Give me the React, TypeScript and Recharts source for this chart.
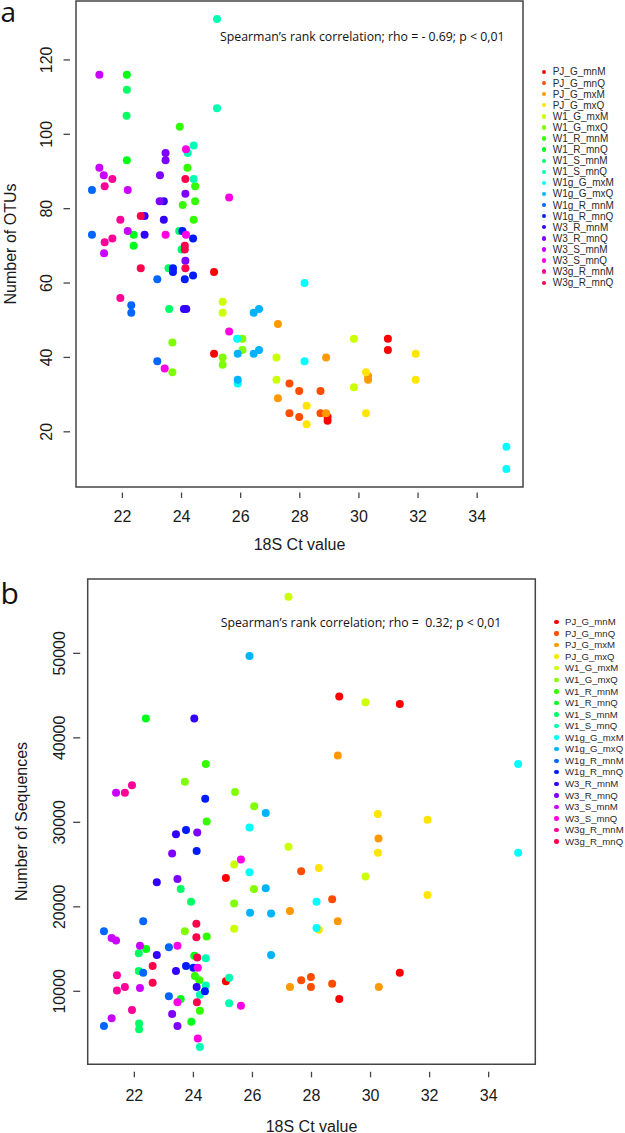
import React from 'react';
import { ScatterChart, Scatter, XAxis, YAxis, ReferenceArea, Legend } from 'recharts';

const SERIES_NAMES = [
  'PJ_G_mnM', 'PJ_G_mnQ', 'PJ_G_mxM', 'PJ_G_mxQ', 'W1_G_mxM', 'W1_G_mxQ', 'W1_R_mnM', 'W1_R_mnQ',
  'W1_S_mnM', 'W1_S_mnQ', 'W1g_G_mxM', 'W1g_G_mxQ', 'W1g_R_mnM', 'W1g_R_mnQ', 'W3_R_mnM', 'W3_R_mnQ',
  'W3_S_mnM', 'W3_S_mnQ', 'W3g_R_mnM', 'W3g_R_mnQ',
];
const SERIES_COLORS = [
  '#FF0000', '#FF4D00', '#FF9900', '#FFE500', '#CCFF00', '#80FF00', '#33FF00', '#00FF19',
  '#00FF66', '#00FFB2', '#00FFFF', '#00B3FF', '#0066FF', '#001AFF', '#3300FF', '#7F00FF',
  '#CC00FF', '#FF00E6', '#FF0099', '#FF004D',
];

const X_TICKS = [22, 24, 26, 28, 30, 32, 34];
const OTU_TICKS = [20, 40, 60, 80, 100, 120];
const SEQ_TICKS = [10000, 20000, 30000, 40000, 50000];
const X_DOMAIN_A = [20.43, 35.55];
const OTU_DOMAIN = [5.16, 135.84];
const X_DOMAIN_B = [20.42, 35.58];
const SEQ_DOMAIN = [1360, 58800];

// Panel a: [18S Ct value, number of OTUs]
const OTU_PJ_G_mnM = [[25.1, 63], [25.1, 41], [30.98, 45], [30.98, 42], [28.94, 24], [28.94, 23]];
const OTU_PJ_G_mnQ = [[27.65, 33], [27.65, 25], [27.98, 31], [27.98, 24], [28.7, 31], [28.7, 25]];
const OTU_PJ_G_mxM = [[27.26, 49], [27.26, 29], [28.89, 40], [28.89, 25], [30.31, 35], [30.31, 34]];
const OTU_PJ_G_mxQ = [[28.23, 27], [28.23, 22], [31.92, 41], [31.92, 34], [30.24, 36], [30.24, 25]];
const OTU_W1_G_mxM = [[25.39, 55], [25.39, 52], [27.21, 40], [27.21, 34], [29.83, 45], [29.83, 32]];
const OTU_W1_G_mxQ = [[26.06, 45], [26.06, 42], [25.39, 40], [25.39, 38], [23.69, 44], [23.69, 36]];
const OTU_W1_R_mnM = [[24.46, 86], [24.46, 82], [24.41, 77], [24.2, 91], [24.04, 81], [23.94, 102]];
const OTU_W1_R_mnQ = [[22.15, 116], [22.15, 93], [22.38, 73], [22.38, 70]];
const OTU_W1_S_mnM = [[22.14, 105], [22.15, 112], [23.56, 64], [23.58, 53], [23.92, 74], [24.0, 69]];
const OTU_W1_S_mnQ = [[25.2, 131], [25.2, 107], [24.41, 97], [24.21, 95], [24.41, 88]];
const OTU_W1g_G_mxM = [[25.88, 45], [25.9, 33], [28.16, 60], [28.16, 39], [34.99, 16], [34.99, 10]];
const OTU_W1g_G_mxQ = [[26.44, 52], [26.62, 53], [26.44, 41], [26.62, 42], [25.9, 41], [25.9, 34]];
const OTU_W1g_R_mnM = [[20.97, 85], [20.97, 73], [22.3, 54], [22.3, 52], [23.18, 61], [23.18, 39]];
const OTU_W1g_R_mnQ = [[24.39, 72], [24.39, 62], [23.71, 64], [23.71, 63], [24.03, 74], [24.11, 61]];
const OTU_W3_R_mnM = [[22.75, 78], [22.75, 73], [23.4, 82], [23.4, 77], [24.08, 53], [24.16, 53]];
const OTU_W3_R_mnQ = [[23.46, 95], [23.46, 93], [23.27, 89], [23.26, 82], [24.13, 84], [24.13, 66]];
const OTU_W3_S_mnM = [[21.22, 116], [21.22, 91], [21.37, 89], [21.38, 68], [22.18, 85], [22.18, 74]];
const OTU_W3_S_mnQ = [[24.15, 96], [23.46, 73], [24.15, 73], [25.61, 83], [25.61, 47], [23.43, 37]];
const OTU_W3g_R_mnM = [[21.4, 86], [21.4, 71], [21.66, 88], [21.66, 72], [21.93, 77], [21.93, 56]];
const OTU_W3g_R_mnQ = [[22.62, 78], [22.62, 64], [24.13, 88], [24.11, 70], [24.11, 69], [24.13, 64]];

// Panel b: [18S Ct value, number of sequences]
const SEQ_PJ_G_mnM = [[25.1, 23400], [25.1, 11200], [30.99, 44000], [30.99, 12200], [28.94, 44900], [28.94, 9100]];
const SEQ_PJ_G_mnQ = [[27.65, 24200], [27.65, 11300], [27.98, 11700], [27.98, 10500], [28.7, 20900], [28.7, 10900]];
const SEQ_PJ_G_mxM = [[27.27, 19500], [27.27, 10500], [28.89, 37900], [28.89, 18300], [30.27, 28100], [30.28, 10500]];
const SEQ_PJ_G_mxQ = [[28.25, 24600], [28.25, 17300], [31.93, 30300], [31.93, 21400], [30.25, 31000], [30.25, 26400]];
const SEQ_W1_G_mxM = [[25.38, 25000], [25.38, 17400], [27.22, 56700], [27.22, 27100], [29.83, 44200], [29.83, 23600]];
const SEQ_W1_G_mxQ = [[26.06, 31900], [26.05, 22100], [25.41, 33600], [25.38, 20400], [23.71, 34800], [23.71, 17100]];
const SEQ_W1_R_mnM = [[24.45, 30100], [24.45, 16500], [24.42, 36900], [24.2, 11300], [24.22, 7700], [24.05, 11800]];
const SEQ_W1_R_mnQ = [[22.39, 42300], [22.4, 15000], [24.03, 14200], [23.93, 6400], [23.57, 9100]];
const SEQ_W1_S_mnM = [[22.15, 14500], [22.15, 12400], [22.16, 6200], [22.16, 5500], [23.57, 22100], [23.92, 20600]];
const SEQ_W1_S_mnQ = [[25.21, 11600], [25.21, 8600], [24.42, 13900], [24.42, 10700], [24.22, 9600], [24.22, 3400]];
const SEQ_W1g_G_mxM = [[25.9, 29400], [25.9, 24100], [28.17, 20600], [28.17, 17500], [35.0, 36900], [35.0, 26400]];
const SEQ_W1g_G_mxQ = [[25.9, 49700], [25.92, 19300], [26.45, 31100], [26.45, 22200], [26.63, 19200], [26.63, 14300]];
const SEQ_W1g_R_mnM = [[20.97, 17100], [20.97, 5900], [22.3, 18300], [22.3, 12200], [23.17, 15200], [23.17, 9400]];
const SEQ_W1g_R_mnQ = [[24.4, 32800], [24.39, 10000], [23.75, 29100], [23.75, 13000], [24.11, 26600], [24.0, 12800]];
const SEQ_W3_R_mnM = [[22.76, 22900], [22.76, 14300], [23.41, 28600], [23.41, 12400], [24.03, 42300], [24.11, 10500]];
const SEQ_W3_R_mnQ = [[23.46, 23300], [23.46, 5900], [23.28, 26300], [23.28, 7300], [24.13, 28800]];
const SEQ_W3_S_mnM = [[21.23, 16300], [21.38, 16000], [21.23, 6800], [21.38, 33500], [22.19, 15400], [22.19, 10400]];
const SEQ_W3_S_mnQ = [[24.15, 12800], [24.15, 4400], [23.46, 15400], [23.46, 8700], [25.61, 25600], [25.61, 8300]];
const SEQ_W3g_R_mnM = [[21.41, 11900], [21.41, 10100], [21.68, 33500], [21.68, 10500], [21.92, 34400], [21.92, 7800]];
const SEQ_W3g_R_mnQ = [[22.62, 13000], [22.62, 11000], [24.1, 18000], [24.1, 16400], [24.13, 14000], [24.12, 8700]];

const OTU_SETS = [
  OTU_PJ_G_mnM, OTU_PJ_G_mnQ, OTU_PJ_G_mxM, OTU_PJ_G_mxQ, OTU_W1_G_mxM, OTU_W1_G_mxQ, OTU_W1_R_mnM,
  OTU_W1_R_mnQ, OTU_W1_S_mnM, OTU_W1_S_mnQ, OTU_W1g_G_mxM, OTU_W1g_G_mxQ, OTU_W1g_R_mnM, OTU_W1g_R_mnQ,
  OTU_W3_R_mnM, OTU_W3_R_mnQ, OTU_W3_S_mnM, OTU_W3_S_mnQ, OTU_W3g_R_mnM, OTU_W3g_R_mnQ,
];
const SEQ_SETS = [
  SEQ_PJ_G_mnM, SEQ_PJ_G_mnQ, SEQ_PJ_G_mxM, SEQ_PJ_G_mxQ, SEQ_W1_G_mxM, SEQ_W1_G_mxQ, SEQ_W1_R_mnM,
  SEQ_W1_R_mnQ, SEQ_W1_S_mnM, SEQ_W1_S_mnQ, SEQ_W1g_G_mxM, SEQ_W1g_G_mxQ, SEQ_W1g_R_mnM, SEQ_W1g_R_mnQ,
  SEQ_W3_R_mnM, SEQ_W3_R_mnQ, SEQ_W3_S_mnM, SEQ_W3_S_mnQ, SEQ_W3g_R_mnM, SEQ_W3g_R_mnQ,
];

const AXIS_COLOR = '#454545';
const TEXT_COLOR = '#1a1a1a';
const R_FONT = "'Liberation Sans', Arial, Helvetica, sans-serif";
const NOTE_FONT = "'Open Sans', 'Noto Sans', sans-serif";

const toRows = (pts: number[][]) => pts.map(([ct, v]) => ({ ct, v }));

const makeXTick = (gap: number, len: number, labelOff: number) => (props: any) => {
  const { x, y, payload } = props;
  return (
    <g>
      <line x1={x} x2={x} y1={y + gap} y2={y + gap + len} stroke={AXIS_COLOR} strokeWidth={1.3} />
      <text x={x} y={y + labelOff} textAnchor="middle" dominantBaseline="central" fontSize={16}
        fontFamily={R_FONT} fill={TEXT_COLOR}>{payload.value}</text>
    </g>
  );
};

const makeYTick = (gap: number, len: number, labelOff: number) => (props: any) => {
  const { x, y, payload } = props;
  const tx = x - labelOff;
  return (
    <g>
      <line x1={x - gap} x2={x - gap - len} y1={y} y2={y} stroke={AXIS_COLOR} strokeWidth={1.3} />
      <text x={tx} y={y} textAnchor="middle" dominantBaseline="central" fontSize={16}
        fontFamily={R_FONT} fill={TEXT_COLOR} transform={`rotate(-90 ${tx} ${y})`}>{payload.value}</text>
    </g>
  );
};

const makeLegend = (dotX: number, textX: number, step: number, fontSize: number) => () => (
  <div style={{ position: 'relative', width: 80, height: step * SERIES_NAMES.length }}>
    {SERIES_NAMES.map((name, i) => (
      <div key={name} style={{ position: 'absolute', left: 0, top: i * step, height: step, width: 80 }}>
        <span style={{
          position: 'absolute', left: dotX - 2.2, top: step / 2 - 2.2, width: 4.4, height: 4.4,
          borderRadius: '50%', background: SERIES_COLORS[i],
        }} />
        <span style={{
          position: 'absolute', left: textX, top: 0, lineHeight: `${step}px`, fontSize,
          fontFamily: R_FONT, color: '#2a2a2a', whiteSpace: 'nowrap',
        }}>{name}</span>
      </div>
    ))}
  </div>
);

const renderSeries = (sets: number[][][]) =>
  sets.map((pts, i) => (
    <Scatter
      key={SERIES_NAMES[i]}
      name={SERIES_NAMES[i]}
      data={toRows(pts)}
      dataKey="v"
      fill={SERIES_COLORS[i]}
      legendType="circle"
      isAnimationActive={false}
      shape={(p: any) => <circle cx={p.cx} cy={p.cy} r={4} fill={SERIES_COLORS[i]} />}
    />
  ));

const PanelA = () => (
  <ScatterChart width={625} height={560} margin={{ top: 1, right: 102, bottom: 0, left: 0 }}>
    <XAxis type="number" dataKey="ct" domain={X_DOMAIN_A} ticks={X_TICKS} allowDataOverflow interval={0}
      axisLine={false} tickLine={false} tickSize={0} tickMargin={0} height={73} tick={makeXTick(5.5, 5.5, 29.5)} />
    <YAxis type="number" dataKey="v" domain={OTU_DOMAIN} ticks={OTU_TICKS} allowDataOverflow interval={0}
      axisLine={false} tickLine={false} tickSize={0} tickMargin={0} width={76} tick={makeYTick(6, 6.5, 29.7)} />
    <ReferenceArea x1={X_DOMAIN_A[0]} x2={X_DOMAIN_A[1]} y1={OTU_DOMAIN[0]} y2={OTU_DOMAIN[1]}
      fill="none" stroke={AXIS_COLOR} strokeWidth={1.5} ifOverflow="visible" />
    {renderSeries(OTU_SETS)}
    <Legend layout="vertical" align="center" verticalAlign="middle"
      wrapperStyle={{ left: 540, top: 72 - 11.09 / 2, width: 80 }}
      content={makeLegend(4.3, 12.7, 11.09, 10)} />
    <text x={0.5} y={22} fontSize={28} fontFamily={NOTE_FONT} fill="#111">a</text>
    <text x={220} y={41} fontSize={12.3} fontFamily={NOTE_FONT} fill="#111" style={{ whiteSpace: 'pre' }}>
      Spearman’s rank correlation; rho = - 0.69; p &lt; 0,01
    </text>
    <text x={299.5} y={544} textAnchor="middle" dominantBaseline="central" fontSize={16}
      fontFamily={R_FONT} fill={TEXT_COLOR}>18S Ct value</text>
    <text x={10} y={244} textAnchor="middle" dominantBaseline="central" fontSize={16}
      fontFamily={R_FONT} fill={TEXT_COLOR} transform="rotate(-90 10 244)">Number of OTUs</text>
  </ScatterChart>
);

const PanelB = () => (
  <ScatterChart width={625} height={573} margin={{ top: 19, right: 89.7, bottom: 0, left: 0 }}>
    <XAxis type="number" dataKey="ct" domain={X_DOMAIN_B} ticks={X_TICKS} allowDataOverflow interval={0}
      axisLine={false} tickLine={false} tickSize={0} tickMargin={0} height={68.7} tick={makeXTick(7.5, 5.5, 30.7)} />
    <YAxis type="number" dataKey="v" domain={SEQ_DOMAIN} ticks={SEQ_TICKS} allowDataOverflow interval={0}
      axisLine={false} tickLine={false} tickSize={0} tickMargin={0} width={87.7} tick={makeYTick(7.5, 7, 27.7)} />
    <ReferenceArea x1={X_DOMAIN_B[0]} x2={X_DOMAIN_B[1]} y1={SEQ_DOMAIN[0]} y2={SEQ_DOMAIN[1]}
      fill="none" stroke={AXIS_COLOR} strokeWidth={1.5} ifOverflow="visible" />
    {renderSeries(SEQ_SETS)}
    <Legend layout="vertical" align="center" verticalAlign="middle"
      wrapperStyle={{ left: 550, top: 62 - 11.56 / 2, width: 75 }}
      content={makeLegend(6.5, 15, 11.56, 9.6)} />
    <text x={0.5} y={44} fontSize={30} fontFamily={NOTE_FONT} fill="#111">b</text>
    <text x={220.7} y={67.3} fontSize={12.3} fontFamily={NOTE_FONT} fill="#111" style={{ whiteSpace: 'pre' }}>
      Spearman’s rank correlation; rho =  0.32; p &lt; 0,01
    </text>
    <text x={311.5} y={566} textAnchor="middle" dominantBaseline="central" fontSize={16}
      fontFamily={R_FONT} fill={TEXT_COLOR}>18S Ct value</text>
    <text x={21.5} y={261.5} textAnchor="middle" dominantBaseline="central" fontSize={16}
      fontFamily={R_FONT} fill={TEXT_COLOR} transform="rotate(-90 21.5 261.5)">Number of Sequences</text>
  </ScatterChart>
);

export default function App() {
  return (
    <div style={{ position: 'absolute', left: 0, top: 0, width: 625, height: 1133, background: '#fff' }}>
      <div style={{ position: 'absolute', left: 0, top: 0 }}>
        <PanelA />
      </div>
      <div style={{ position: 'absolute', left: 0, top: 560 }}>
        <PanelB />
      </div>
    </div>
  );
}
